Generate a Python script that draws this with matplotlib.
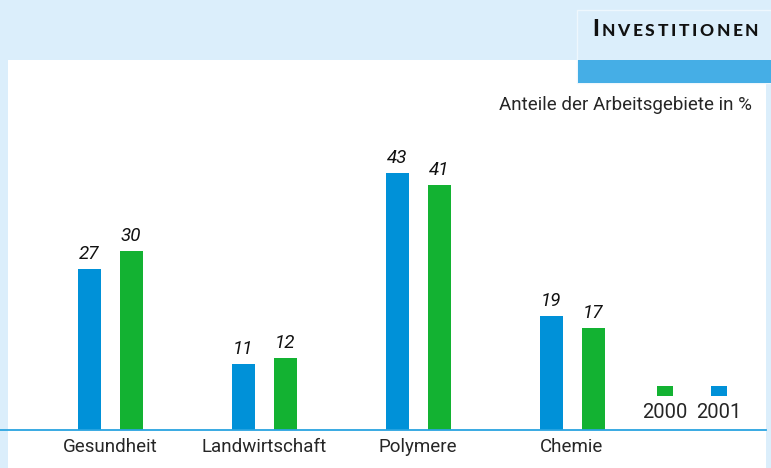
import matplotlib.pyplot as plt
from matplotlib.patches import Rectangle

categories = ['Gesundheit', 'Landwirtschaft', 'Polymere', 'Chemie']
values_2001 = [27, 11, 43, 19]   # blau
values_2000 = [30, 12, 41, 17]   # grün
series_labels = ['2000', '2001']
title = 'INVESTITIONEN'
subtitle = 'Anteile der Arbeitsgebiete in %'

BLUE = '#0091d8'
GREEN = '#13b232'
BG = '#dbeefb'
BAR_TOP = '#45aee6'
LINE = '#2aa4e0'

W, H = 771, 468
fig = plt.figure(figsize=(W / 100, H / 100), dpi=100)
fig.patch.set_facecolor(BG)
plt.rcParams['font.family'] = ['Roboto', 'DejaVu Sans']


def px(x0, y0, w, h, **kw):
    # Rechteck in Pixelkoordinaten (Ursprung oben links)
    fig.patches.append(Rectangle((x0 / W, 1 - (y0 + h) / H), w / W, h / H,
                                 transform=fig.transFigure, **kw))


# weisse Fläche
px(8, 60, 758, 408, facecolor='white', edgecolor='none', zorder=0)
# Titelkasten
px(577, 10, 194, 73, facecolor=BG, edgecolor='#eef7fd', lw=1, zorder=1)
px(578, 60, 193, 23, facecolor=BAR_TOP, edgecolor='none', zorder=2)

# Titel in Kapitälchen, Zeichen einzeln gesetzt
renderer = fig.canvas.get_renderer()
xc = 592
for i, ch in enumerate(title):
    size = 16 if i == 0 else 12.5
    t = fig.text(xc / W, 1 - 36 / H, ch, fontsize=size, fontweight='black',
                 family=['Lato', 'DejaVu Sans'], color='#111111', va='baseline', ha='left')
    xc += t.get_window_extent(renderer).width + 2.6

fig.text(752 / W, 1 - 105 / H, subtitle, fontsize=13.5, color='#262626',
         ha='right', va='center')

# Achse für die Balken
base = 430
ppu = 5.98
ax = fig.add_axes([0, 1 - base / H, 1, base / H], zorder=3)
ax.set_facecolor('none')
ax.set_xlim(-110 / 154, (W - 110) / 154)
ax.set_ylim(0, base / ppu)
for s in ax.spines.values():
    s.set_visible(False)
ax.set_xticks([])
ax.set_yticks([])

x = list(range(len(categories)))
off = 21 / 154
bw = 23 / 154
ax.bar([i - off for i in x], values_2001, width=bw, color=BLUE, zorder=3)
ax.bar([i + off for i in x], values_2000, width=bw, color=GREEN, zorder=3)
for i in x:
    ax.text(i - off, values_2001[i] + 1.0, str(values_2001[i]), ha='center', va='bottom',
            fontsize=13.5, style='italic', color='#111111')
    ax.text(i + off, values_2000[i] + 1.0, str(values_2000[i]), ha='center', va='bottom',
            fontsize=13.5, style='italic', color='#111111')
    fig.text((110 + 154 * i) / W, 1 - 447 / H, categories[i], fontsize=13.5,
             color='#262626', ha='center', va='center')

# Grundlinie
fig.add_artist(plt.Line2D([0, 766 / W], [1 - base / H] * 2, color=LINE, lw=1.3,
                          transform=fig.transFigure, zorder=5))

# Legende
for lab, col, cx in zip(series_labels, [GREEN, BLUE], [665, 719]):
    px(cx - 8, 386, 16, 10, facecolor=col, edgecolor='none', zorder=3)
    fig.text(cx / W, 1 - 413 / H, lab, fontsize=14.5, color='#262626',
             ha='center', va='center')

fig.savefig('out.png', dpi=100, facecolor=fig.get_facecolor())
